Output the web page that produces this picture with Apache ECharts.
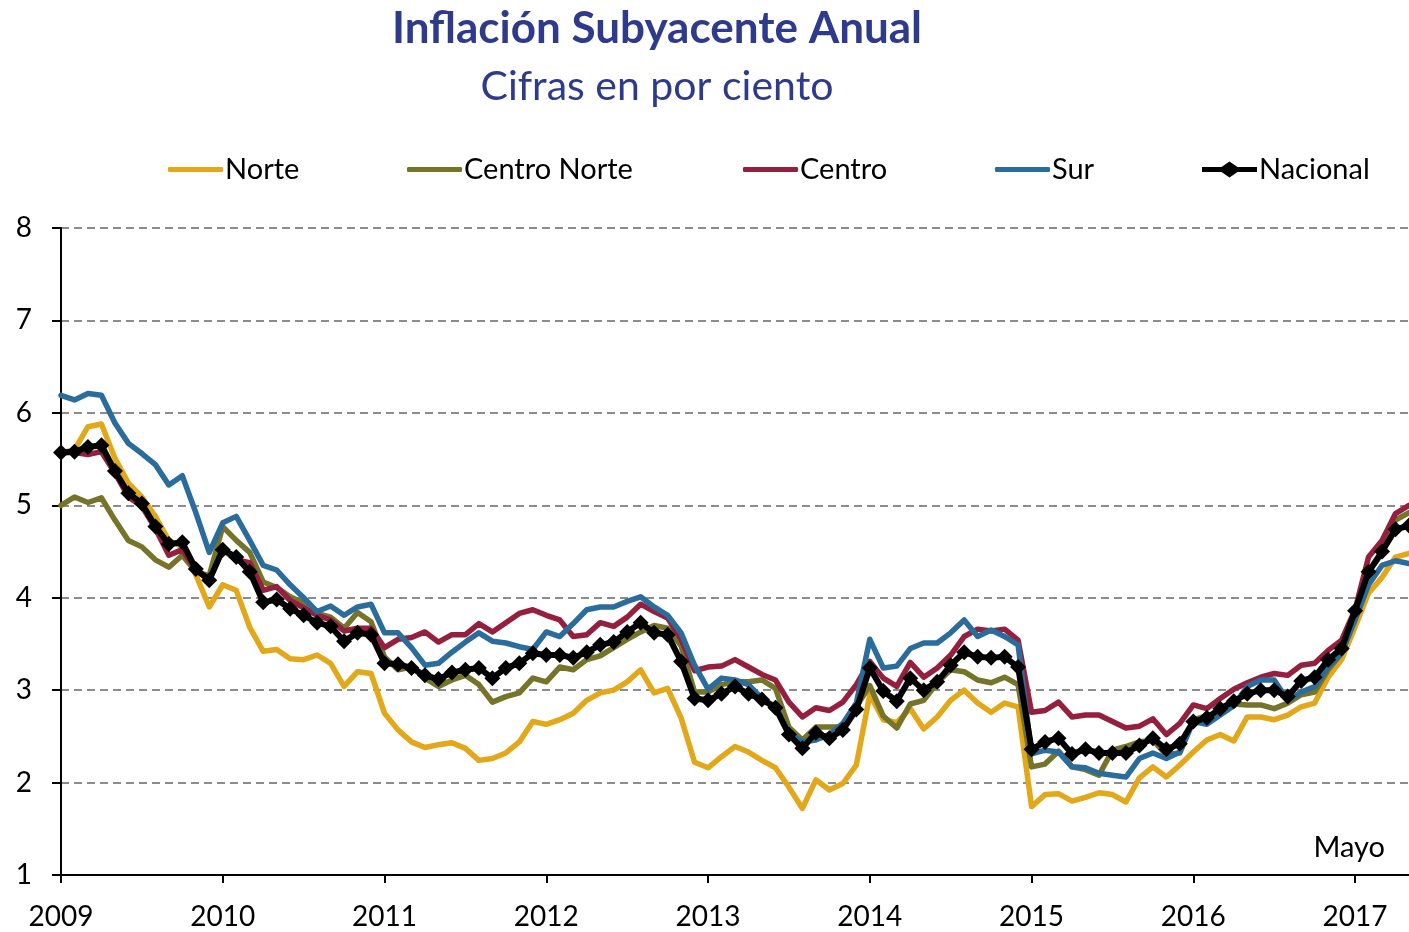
<!DOCTYPE html>
<html>
<head>
<meta charset="utf-8">
<script src="https://cdn.jsdelivr.net/npm/echarts@6/dist/echarts.min.js"></script>
<style>
  html, body { margin: 0; padding: 0; background: #fff; }
  #chart { width: 1409px; height: 932px; }
</style>
</head>
<body>
<div id="chart"></div>
<script>
// meses: ene 2009 a may 2017
var years = ["2009", "2010", "2011", "2012", "2013", "2014", "2015", "2016", "2017"];
var lastMonth = 5; // mayo 2017

var norte = [
  5.57, 5.60, 5.85, 5.88, 5.51, 5.24, 5.09, 4.88, 4.62, 4.55, 4.25, 3.90,
  4.14, 4.08, 3.68, 3.42, 3.44, 3.34, 3.33, 3.38, 3.29, 3.04, 3.20, 3.18,
  2.75, 2.57, 2.44, 2.38, 2.41, 2.43, 2.37, 2.24, 2.26, 2.32, 2.44, 2.66,
  2.63, 2.68, 2.75, 2.89, 2.97, 3.00, 3.09, 3.22, 2.97, 3.02, 2.70, 2.22,
  2.16, 2.28, 2.39, 2.33, 2.24, 2.16, 1.95, 1.72, 2.03, 1.92, 1.99, 2.19,
  2.95, 2.68, 2.65, 2.80, 2.58, 2.71, 2.89, 3.00, 2.86, 2.76, 2.86, 2.82,
  1.74, 1.87, 1.88, 1.80, 1.84, 1.89, 1.87, 1.79, 2.05, 2.17, 2.06, 2.19,
  2.33, 2.46, 2.52, 2.45, 2.71, 2.71, 2.68, 2.73, 2.82, 2.86, 3.14, 3.33,
  3.68, 4.05, 4.22, 4.44, 4.48
];
var centroNorte = [
  5.00, 5.09, 5.03, 5.08, 4.84, 4.62, 4.55, 4.41, 4.33, 4.46, 4.28, 4.24,
  4.77, 4.62, 4.49, 4.17, 4.11, 4.01, 3.94, 3.83, 3.79, 3.67, 3.84, 3.74,
  3.36, 3.22, 3.25, 3.13, 3.04, 3.11, 3.16, 3.06, 2.87, 2.93, 2.97, 3.13,
  3.09, 3.25, 3.22, 3.33, 3.37, 3.46, 3.55, 3.63, 3.70, 3.67, 3.48, 2.98,
  2.98, 3.06, 3.09, 3.09, 3.11, 3.02, 2.60, 2.46, 2.60, 2.60, 2.60, 2.82,
  3.05, 2.72, 2.59, 2.85, 2.89, 3.08, 3.22, 3.20, 3.11, 3.08, 3.14, 3.06,
  2.17, 2.20, 2.34, 2.17, 2.14, 2.08, 2.35, 2.39, 2.44, 2.46, 2.30, 2.32,
  2.68, 2.72, 2.77, 2.85, 2.84, 2.84, 2.80, 2.86, 2.95, 2.98, 3.22, 3.40,
  3.79, 4.28, 4.48, 4.84, 4.92
];
var centro = [
  5.57, 5.57, 5.55, 5.58, 5.35, 5.09, 4.99, 4.75, 4.46, 4.52, 4.30, 4.19,
  4.52, 4.41, 4.38, 4.08, 4.12, 3.97, 3.89, 3.81, 3.76, 3.64, 3.67, 3.67,
  3.46, 3.55, 3.57, 3.63, 3.52, 3.60, 3.60, 3.72, 3.63, 3.73, 3.83, 3.87,
  3.81, 3.76, 3.58, 3.60, 3.73, 3.69, 3.79, 3.93, 3.85, 3.78, 3.55, 3.21,
  3.25, 3.26, 3.33, 3.25, 3.17, 3.11, 2.87, 2.71, 2.81, 2.78, 2.87, 3.06,
  3.31, 3.13, 3.04, 3.30, 3.14, 3.24, 3.38, 3.58, 3.66, 3.64, 3.66, 3.54,
  2.76, 2.78, 2.87, 2.71, 2.73, 2.73, 2.66, 2.59, 2.61, 2.69, 2.52, 2.64,
  2.84, 2.80, 2.91, 3.01, 3.08, 3.14, 3.18, 3.16, 3.27, 3.29, 3.43, 3.54,
  3.87, 4.44, 4.62, 4.91, 5.00
];
var sur = [
  6.19, 6.14, 6.21, 6.19, 5.89, 5.67, 5.56, 5.44, 5.22, 5.32, 4.92, 4.49,
  4.81, 4.88, 4.62, 4.35, 4.30, 4.14, 4.00, 3.85, 3.91, 3.81, 3.90, 3.93,
  3.62, 3.62, 3.46, 3.27, 3.29, 3.41, 3.52, 3.62, 3.53, 3.51, 3.47, 3.44,
  3.63, 3.58, 3.72, 3.87, 3.90, 3.90, 3.96, 4.01, 3.90, 3.81, 3.62, 3.27,
  3.01, 3.13, 3.11, 3.06, 2.91, 2.82, 2.54, 2.44, 2.46, 2.52, 2.64, 2.86,
  3.55, 3.24, 3.26, 3.45, 3.51, 3.51, 3.62, 3.76, 3.58, 3.65, 3.58, 3.49,
  2.31, 2.35, 2.33, 2.17, 2.16, 2.10, 2.08, 2.06, 2.26, 2.32, 2.26, 2.33,
  2.66, 2.63, 2.73, 2.83, 3.04, 3.11, 3.11, 2.89, 2.98, 3.04, 3.25, 3.40,
  3.76, 4.14, 4.35, 4.40, 4.37
];
var nacional = [
  5.57, 5.58, 5.63, 5.65, 5.37, 5.13, 5.02, 4.77, 4.58, 4.60, 4.31, 4.19,
  4.52, 4.44, 4.28, 3.95, 3.98, 3.88, 3.81, 3.73, 3.69, 3.53, 3.62, 3.60,
  3.29, 3.28, 3.24, 3.16, 3.12, 3.19, 3.22, 3.24, 3.13, 3.24, 3.29, 3.40,
  3.38, 3.38, 3.35, 3.41, 3.49, 3.52, 3.63, 3.73, 3.62, 3.60, 3.31, 2.91,
  2.89, 2.96, 3.04, 2.96, 2.90, 2.81, 2.52, 2.37, 2.54, 2.48, 2.57, 2.79,
  3.24, 2.99, 2.88, 3.13, 3.00, 3.09, 3.27, 3.41, 3.36, 3.35, 3.36, 3.25,
  2.36, 2.44, 2.48, 2.31, 2.36, 2.32, 2.32, 2.32, 2.40, 2.48, 2.36, 2.42,
  2.66, 2.70, 2.80, 2.88, 2.96, 3.00, 3.00, 2.93, 3.10, 3.14, 3.33, 3.45,
  3.86, 4.28, 4.50, 4.74, 4.78
];

// etiquetas de mes "2009-01" ...
var meses = [];
years.forEach(function (y, k) {
  var n = (k === years.length - 1) ? lastMonth : 12;
  for (var m = 1; m <= n; m++) {
    meses.push(y + "-" + (m < 10 ? "0" + m : m));
  }
});

var FONT = "Lato";
var esEnero = function (index) {
  return meses[index].slice(5) === "01";
};

var colores = {
  "Norte": "#E3A71A",
  "Centro Norte": "#757428",
  "Centro": "#941F3E",
  "Sur": "#2A6C9C"
};

// icono de leyenda: linea gruesa con rombo al centro
var iconoNacional = "path://M0,5.5 L19.5,5.5 L27.5,0 L35.5,5.5 L55,5.5 L55,10.5 L35.5,10.5 L27.5,16 L19.5,10.5 L0,10.5 Z";

var chart = echarts.init(document.getElementById("chart"));
chart.setOption({
  animation: false,
  textStyle: { fontFamily: FONT },
  title: [
    {
      text: "Inflación Subyacente Anual",
      left: 652, top: 2, textAlign: "center",
      textStyle: { fontSize: 44, fontWeight: "bold", color: "#2E3A8C", fontFamily: FONT }
    },
    {
      text: "Cifras en por ciento",
      left: 652, top: 61, textAlign: "center",
      textStyle: { fontSize: 41, fontWeight: "normal", color: "#2E3A8C", fontFamily: FONT }
    }
  ],
  legend: [
    { name: "Norte", left: 163 },
    { name: "Centro Norte", left: 402 },
    { name: "Centro", left: 738 },
    { name: "Sur", left: 990 },
    { name: "Nacional", left: 1197 }
  ].map(function (l) {
    var nac = l.name === "Nacional";
    return {
      data: [{ name: l.name, icon: nac ? iconoNacional : "roundRect" }],
      left: l.left, top: 150,
      itemWidth: 55, itemHeight: nac ? 16 : 5, itemGap: 0,
      textStyle: { fontSize: 29, color: "#000", fontFamily: FONT, padding: [0, 0, 0, -3] }
    };
  }),
  grid: { left: 61, right: -6, top: 228, bottom: 57 },
  xAxis: {
    type: "category",
    data: meses,
    boundaryGap: false,
    axisLine: { lineStyle: { color: "#000", width: 2 } },
    axisTick: { interval: esEnero, length: 8, lineStyle: { color: "#000", width: 2 } },
    axisLabel: {
      interval: esEnero,
      formatter: function (v) { return v.slice(0, 4); },
      fontSize: 28, color: "#000", margin: 28, fontFamily: FONT
    },
    splitLine: { show: false }
  },
  yAxis: {
    type: "value",
    min: 1, max: 8, interval: 1,
    axisLine: { show: true, lineStyle: { color: "#000", width: 2 } },
    axisTick: { show: true, length: 9, lineStyle: { color: "#000", width: 2 } },
    axisLabel: { fontSize: 28, color: "#000", margin: 29, fontFamily: FONT },
    splitLine: { lineStyle: { color: "#8c8c8c", width: 2, type: [8, 5] } }
  },
  graphic: [
    {
      type: "text", right: 24, top: 833,
      style: { text: "Mayo", fontSize: 29, fill: "#000", fontFamily: FONT }
    }
  ],
  series: ["Norte", "Centro Norte", "Centro", "Sur"].map(function (nombre) {
    var datos = { "Norte": norte, "Centro Norte": centroNorte, "Centro": centro, "Sur": sur }[nombre];
    return {
      name: nombre, type: "line", data: datos,
      symbol: "none", color: colores[nombre],
      lineStyle: { width: 5.5, color: colores[nombre], cap: "round", join: "round" }
    };
  }).concat([{
    name: "Nacional", type: "line", data: nacional,
    color: "#000",
    symbol: "diamond", symbolSize: 16, showAllSymbol: true,
    itemStyle: { color: "#000" },
    lineStyle: { width: 6, color: "#000", join: "round" }
  }])
});
</script>
</body>
</html>
